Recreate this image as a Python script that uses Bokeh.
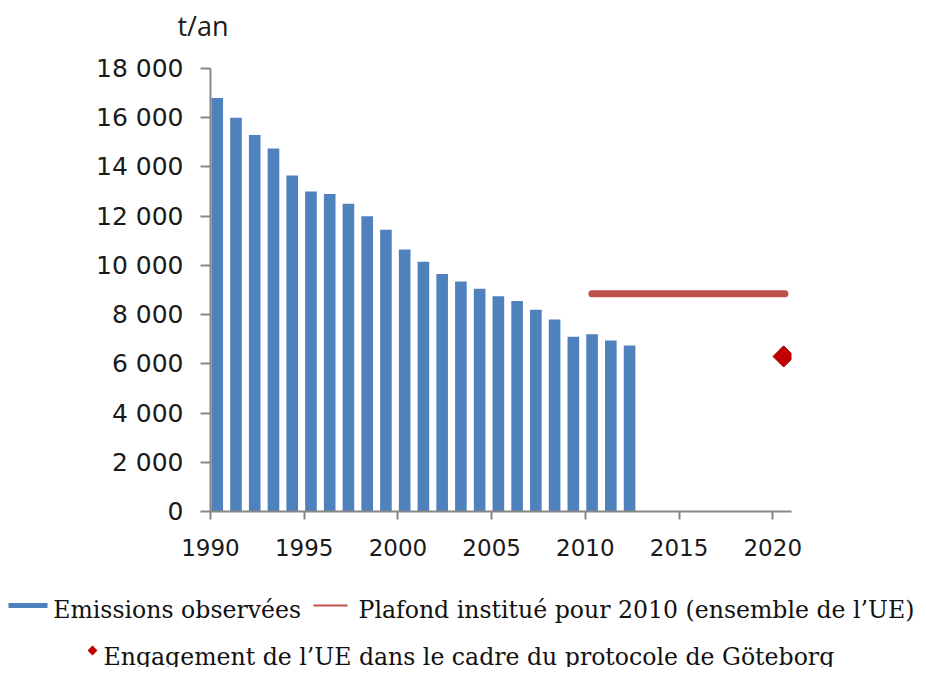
import math
from bokeh.plotting import figure
from bokeh.models import Range1d, FixedTicker
from bokeh.core.properties import value
from bokeh.embed import file_html
from bokeh.resources import INLINE

# ---- data ----
years = list(range(1990, 2013))
emissions = [16800, 16000, 15300, 14750, 13650, 13000, 12900, 12500, 12000, 11450,
             10650, 10150, 9650, 9350, 9050, 8750, 8550, 8200, 7800, 7100,
             7200, 6950, 6750]
plafond_years = [2010, 2020]
plafond_value = 8850
goteborg_year = 2020
goteborg_value = 6300
x_ticks = [1990, 1995, 2000, 2005, 2010, 2015, 2020]
y_ticks = list(range(0, 18001, 2000))
unit_label = "t/an"
legend_labels = ["Emissions observées",
                 "Plafond institué pour 2010 (ensemble de l\u2019UE)",
                 "Engagement de l\u2019UE dans le cadre du protocole de Göteborg"]

# ---- style ----
BAR_COLOR = "#4f81bd"
LINE_COLOR = "#c0504d"
DIAMOND_COLOR = "#c00000"
AXIS_COLOR = "#878787"
TEXT_COLOR = "#1a1a1a"
BAR_OFFSET = 0.36
BAR_WIDTH = 0.62
LINE_START_OFF = 0.35
LINE_END_OFF = 0.65
DIAMOND_OFF = 0.58


def blank_fig(h):
    f = figure(width=926, height=h, output_backend="svg", toolbar_location=None,
               title_location=None,
               x_range=Range1d(0, 926), y_range=Range1d(h, 0),
               x_axis_type=None, y_axis_type=None, min_border=0)
    f.outline_line_color = None
    f.xgrid.visible = False
    f.ygrid.visible = False
    return f


# ---- header (unit label) ----
hdr = blank_fig(40)
hdr.text(x=[177], y=[25], text=[unit_label], text_font=value("Open Sans"),
         text_font_size="27px", text_baseline="alphabetic", text_color=TEXT_COLOR)

# ---- main chart ----
p = figure(width=926, height=528, output_backend="svg", toolbar_location=None,
           title_location=None,
           x_range=Range1d(1990, 2021), y_range=Range1d(0, 18000),
           min_border_left=210, min_border_right=135,
           min_border_top=28, min_border_bottom=57)
p.outline_line_color = None
p.xgrid.visible = False
p.ygrid.visible = False

p.vbar(x=[y + BAR_OFFSET for y in years], top=emissions, width=BAR_WIDTH,
       bottom=0, fill_color=BAR_COLOR, line_color=None)

p.line(x=[plafond_years[0] + LINE_START_OFF, plafond_years[1] + LINE_END_OFF],
       y=[plafond_value, plafond_value], line_width=7, line_color=LINE_COLOR,
       line_cap="round")

p.scatter(x=[goteborg_year + DIAMOND_OFF], y=[goteborg_value], marker="square",
          angle=math.pi / 4, size=15, fill_color=DIAMOND_COLOR,
          line_color="#a00000", line_width=1)

xa = p.xaxis[0]
xa.ticker = FixedTicker(ticks=x_ticks)
xa.major_label_overrides = {t: str(t) for t in x_ticks}
xa.minor_tick_line_color = None
xa.axis_line_color = AXIS_COLOR
xa.axis_line_width = 2
xa.major_tick_line_color = AXIS_COLOR
xa.major_tick_line_width = 2
xa.major_tick_in = 0
xa.major_tick_out = 8
xa.major_label_standoff = 19
xa.major_label_text_font = "DejaVu Sans"
xa.major_label_text_font_size = "23px"
xa.major_label_text_color = TEXT_COLOR

ya = p.yaxis[0]
ya.ticker = FixedTicker(ticks=y_ticks)
ya.major_label_overrides = {t: f"{t:,}".replace(",", " ") for t in y_ticks}
ya.minor_tick_line_color = None
ya.axis_line_color = AXIS_COLOR
ya.axis_line_width = 2
ya.major_tick_line_color = AXIS_COLOR
ya.major_tick_line_width = 2
ya.major_tick_in = 0
ya.major_tick_out = 10
ya.major_label_standoff = 17
ya.major_label_text_font = "DejaVu Sans"
ya.major_label_text_font_size = "25px"
ya.major_label_text_color = TEXT_COLOR

# ---- legend ----
lg = blank_fig(99)
FONT = value("DejaVu Serif")
FS = "23.6px"
lg.quad(left=[8], right=[47], top=[34.5], bottom=[39.5], fill_color=BAR_COLOR, line_color=None)
lg.text(x=[52.7], y=[41.3], text=[legend_labels[0]], text_font=FONT,
        text_font_size=FS, text_baseline="alphabetic", text_color="#111111")
lg.line(x=[313, 347], y=[37, 37], line_color=LINE_COLOR, line_width=2)
lg.text(x=[358], y=[41.3], text=[legend_labels[1]], text_font=FONT,
        text_font_size=FS, text_baseline="alphabetic", text_color="#111111")
lg.scatter(x=[92], y=[82], marker="square", angle=math.pi / 4, size=7,
           fill_color=DIAMOND_COLOR, line_color=None)
lg.text(x=[103], y=[88], text=[legend_labels[2]], text_font=FONT,
        text_font_size=FS, text_baseline="alphabetic", text_color="#111111")

open("out.html", "w").write(file_html([hdr, p, lg], INLINE))
